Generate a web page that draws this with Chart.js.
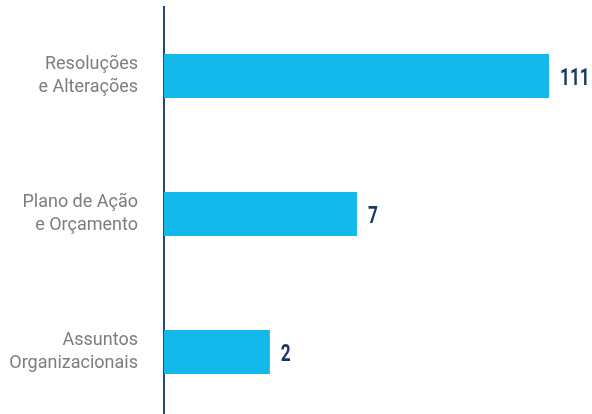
<!DOCTYPE html>
<html><head><meta charset="utf-8">
<script src="https://cdn.jsdelivr.net/npm/chart.js@4"></script>
<style>html,body{margin:0;padding:0;background:#fff;overflow:hidden}
#wrap{position:relative;width:592px;height:428px}</style>
</head><body><div id="wrap"><canvas id="c"></canvas></div>
<script>
// ---- data ----
const categories = [["Resoluções", "e Alterações"], ["Plano de Ação", "e Orçamento"], ["Assuntos", "Organizacionais"]];
const values = [111, 7, 2];
const valueLabels = ["111", "7", "2"];

const NAVY = "#1d3860";
const AXIS = "#284777";
const BAR = "#14b9ec";

const valueLabelPlugin = {
  id: "valueLabels",
  afterDatasetsDraw(chart) {
    const ctx = chart.ctx;
    const meta = chart.getDatasetMeta(0);
    const size = 24;
    ctx.save();
    ctx.fillStyle = NAVY;
    ctx.font = "bold " + size + "px Roboto";
    ctx.textAlign = "left";
    ctx.textBaseline = "alphabetic";
    meta.data.forEach((bar, i) => {
      ctx.save();
      ctx.translate(bar.x + 11, bar.y + size * 0.711 / 2);
      ctx.scale(0.72, 1);
      ctx.fillText(valueLabels[i], 0, 0);
      ctx.restore();
    });
    ctx.restore();
  }
};

new Chart(document.getElementById("c"), {
  type: "bar",
  data: {
    labels: categories,
    datasets: [{
      data: values,
      backgroundColor: BAR,
      borderWidth: 0,
      categoryPercentage: 1,
      barPercentage: 0.319
    }]
  },
  options: {
    indexAxis: "y",
    responsive: true,
    maintainAspectRatio: false,
    animation: false,
    layout: { padding: { top: 7, bottom: 7, left: 0, right: 0 } },
    plugins: { legend: { display: false }, tooltip: { enabled: false } },
    scales: {
      x: {
        type: "logarithmic",
        display: false,
        bounds: "data",
        min: 0.436,
        max: 206
      },
      y: {
        type: "category",
        grid: { display: false, drawTicks: false },
        border: { display: true, color: AXIS, width: 2 },
        ticks: {
          padding: 26,
          color: "#7d7d7d",
          font: { family: "Roboto", size: 18, weight: 400, lineHeight: 1.33 }
        },
        afterFit(scale) {
          scale.width = 164;
          scale.paddingTop = 0;
          scale.paddingBottom = 0;
        }
      }
    }
  },
  plugins: [valueLabelPlugin]
});
</script>
</body></html>
